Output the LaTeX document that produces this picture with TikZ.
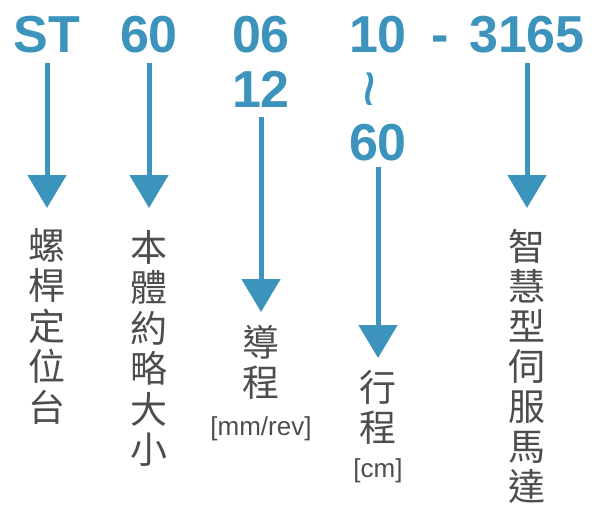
\documentclass[tikz,border=0pt]{standalone}
\usepackage{fontspec}
\setmainfont{Liberation Sans}
\newfontfamily\cjk{Noto Sans CJK TC}
\usetikzlibrary{arrows.meta,positioning}
\definecolor{codeblue}{RGB}{60,147,187}
\definecolor{labelgray}{RGB}{77,77,77}
\begin{document}
\begin{tikzpicture}[x=1pt,y=-1pt,
    code_node/.style={anchor=base,inner sep=0pt,text=codeblue,font=\fontsize{52}{55}\selectfont\bfseries},
    label_node/.style={anchor=north,inner sep=0pt,align=center,text=labelgray,font=\cjk\fontsize{37}{40.5}\selectfont},
    unit_node/.style={anchor=base,inner sep=0pt,text=labelgray,font=\fontsize{26}{30}\selectfont},
    arr/.style={draw=codeblue,line width=5pt,-{Triangle[width=38pt,length=33pt]},shorten <=10pt}]
    \useasboundingbox (0,0) rectangle (601,506);
    \node[code_node] (1) at (47,52) {ST};
    \node[code_node] (2) at (149,52) {60};
    \node[code_node] (3a) at (261,52) {06};
    \node[code_node] (3) at (261,107) {12};
    \node[code_node] (4a) at (378,52) {10};
    \node[code_node,font=\fontsize{66}{70}\selectfont,anchor=center,rotate=90] (4b) at (378,89) {\char"007E};
    \node[code_node] (4) at (378,160) {60};
    \node[code_node] (dash) at (440,52) {-};
    \node[code_node] (5) at (527,52) {3165};
    \node[label_node] (l1) at (47,228) {螺\\桿\\定\\位\\台};
    \node[label_node] (l2) at (149,230) {本\\體\\約\\略\\大\\小};
    \node[label_node] (l3) at (261,325) {導\\程};
    \node[unit_node] (u3) at (261,435) {[mm/rev]};
    \node[label_node] (l4) at (378,370) {行\\程};
    \node[unit_node] (u4) at (378,477) {[cm]};
    \node[label_node,font=\cjk\fontsize{37}{40}\selectfont] (l5) at (527,229) {智\\慧\\型\\伺\\服\\馬\\達};
    \draw[arr,shorten >=20pt] (1.south) -- (l1.north);
    \draw[arr,shorten >=22pt] (2.south) -- (l2.north);
    \draw[arr,shorten >=13pt] (3.south) -- (l3.north);
    \draw[arr,shorten <=6pt,shorten >=12pt] (4.south) -- (l4.north);
    \draw[arr,shorten >=21pt] (5.south) -- (l5.north);
\end{tikzpicture}
\end{document}
